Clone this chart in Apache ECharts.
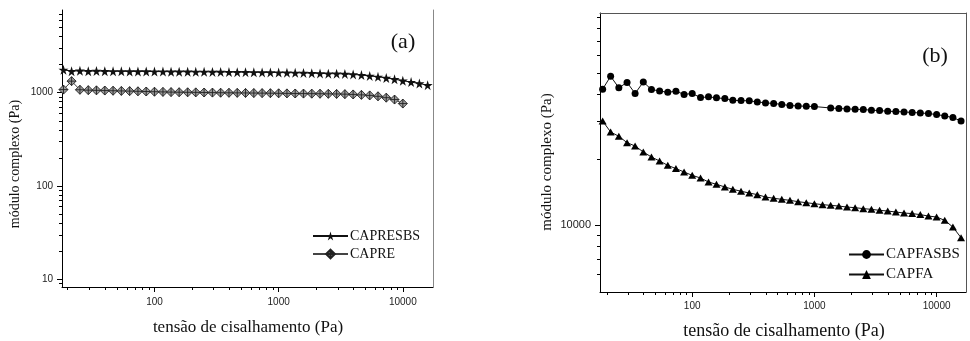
<!DOCTYPE html>
<html>
<head>
<meta charset="utf-8">
<script src="https://cdn.jsdelivr.net/npm/echarts@6/dist/echarts.min.js"></script>
<style>html,body{margin:0;padding:0;background:#fff}#c{width:970px;height:341px}</style>
</head>
<body>
<div id="c"></div>
<script>
// ---- data ----
const stressX = [18.5, 21.5, 25.1, 29.3, 34.1, 39.8, 46.4, 54.1, 63.1, 73.6, 85.8, 100, 117, 136, 158, 185, 215, 251, 293, 341, 398, 464, 541, 631, 736, 858, 1000, 1166, 1359, 1585, 1848, 2154, 2512, 2929, 3415, 3981, 4642, 5412, 6310, 7356, 8577, 10000, 11659, 13594, 15849];

const capresbs = [1760, 1700, 1720, 1700, 1710, 1700, 1695, 1695, 1690, 1690, 1690, 1685, 1685, 1680, 1680, 1680, 1675, 1675, 1670, 1670, 1665, 1660, 1660, 1655, 1650, 1650, 1645, 1640, 1635, 1630, 1620, 1610, 1600, 1600, 1590, 1570, 1545, 1515, 1480, 1440, 1395, 1345, 1300, 1255, 1205];

const capre = [1080, 1330, 1075, 1065, 1060, 1055, 1050, 1045, 1040, 1035, 1030, 1025, 1020, 1015, 1012, 1010, 1008, 1005, 1003, 1000, 998, 996, 994, 992, 990, 988, 985, 983, 981, 979, 977, 975, 973, 970, 965, 958, 948, 935, 915, 885, 845, 765];

const capfasbs = [42100, 48200, 42700, 45200, 40200, 45400, 41900, 41300, 40700, 41200, 39800, 40200, 38500, 38800, 38400, 38100, 37400, 37300, 37200, 36800, 36400, 36200, 35800, 35400, 35250, 35140, 35030, null, 34500, 34300, 34170, 34050, 33950, 33700, 33570, 33340, 33230, 33100, 32890, 32750, 32530, 32200, 31720, 31190, 30080];

const capfa = [30060, 26780, 25590, 23930, 23100, 21690, 20570, 19720, 18840, 18200, 17560, 16950, 16480, 15800, 15420, 14990, 14630, 14330, 14070, 13830, 13490, 13310, 13160, 13020, 12840, 12700, 12570, 12440, 12350, 12260, 12130, 12050, 11930, 11840, 11720, 11630, 11510, 11390, 11320, 11200, 11030, 10920, 10540, 9820, 8780];

// tick values
const xTicksMajor = [100, 1000, 10000];
const xTicksMinor = [20, 30, 40, 50, 60, 70, 80, 90, 200, 300, 400, 500, 600, 700, 800, 900, 2000, 3000, 4000, 5000, 6000, 7000, 8000, 9000];
const yTicksMajorA = [10, 100, 1000];
const yTicksMinorA = [9, 20, 30, 40, 50, 60, 70, 80, 90, 200, 300, 400, 500, 600, 700, 800, 900, 2000, 3000, 4000, 5000, 6000, 7000];
const yTicksMajorB = [10000];
const yTicksMinorB = [6000, 7000, 8000, 9000, 20000, 30000, 40000, 50000, 60000, 70000, 80000, 90000];

const seriesNames = ['CAPRESBS', 'CAPRE', 'CAPFASBS', 'CAPFA'];
const xTitle = 'tensão de cisalhamento (Pa)';
const yTitle = 'módulo complexo (Pa)';
const panelLabels = ['(a)', '(b)'];

// ---- helpers ----
function pairs(vals) {
  const out = [];
  vals.forEach((v, i) => { if (v !== null) out.push([stressX[i], v]); });
  return out;
}
const SERIF = '"Liberation Serif", "Times New Roman", serif';
const SANS = '"Liberation Sans", Arial, sans-serif';
const starPath = 'path://M50,0 L61,35 L98,35 L68,57 L79,91 L50,70 L21,91 L32,57 L2,35 L39,35 Z';
const diamondPath = 'path://M0,-10 L10,0 L0,10 L-10,0 Z M0,-10 L0,10 M-10,0 L10,0';

function mainX(gi, min, max, fs, margin) {
  return {
    type: 'log', logBase: 10, gridIndex: gi, min: min, max: max, position: 'bottom',
    axisLine: { show: true, lineStyle: { color: '#000', width: 1 } },
    axisTick: { show: true, length: 5, customValues: xTicksMajor, lineStyle: { color: '#000' } },
    axisLabel: { show: true, customValues: xTicksMajor, fontFamily: SANS, fontSize: fs, color: '#222', margin: margin, formatter: v => String(v) },
    splitLine: { show: false }, minorTick: { show: false }
  };
}
function minorX(gi, min, max) {
  return {
    type: 'log', logBase: 10, gridIndex: gi, min: min, max: max, position: 'bottom',
    axisLine: { show: false },
    axisTick: { show: true, length: 3, customValues: xTicksMinor, lineStyle: { color: '#000' } },
    axisLabel: { show: false }, splitLine: { show: false }
  };
}
function mainY(gi, min, max, majors, fs) {
  return {
    type: 'log', logBase: 10, gridIndex: gi, min: min, max: max, position: 'left',
    axisLine: { show: true, lineStyle: { color: '#000', width: 1 } },
    axisTick: { show: true, length: 5, customValues: majors, lineStyle: { color: '#000' } },
    axisLabel: { show: true, customValues: majors, fontFamily: SANS, fontSize: fs, color: '#222', margin: 9, formatter: v => String(v) },
    splitLine: { show: false }
  };
}
function minorY(gi, min, max, minors) {
  return {
    type: 'log', logBase: 10, gridIndex: gi, min: min, max: max, position: 'left',
    axisLine: { show: false },
    axisTick: { show: true, length: 3, customValues: minors, lineStyle: { color: '#000' } },
    axisLabel: { show: false }, splitLine: { show: false }
  };
}
function borderAxis(gi, pos, color) {
  return {
    type: 'value', gridIndex: gi, position: pos, min: 0, max: 1,
    axisLine: { show: true, onZero: false, lineStyle: { color: color, width: 1 } },
    axisTick: { show: false }, axisLabel: { show: false }, splitLine: { show: false }
  };
}

const chart = echarts.init(document.getElementById('c'), null, { renderer: 'canvas' });
chart.setOption({
  animation: false,
  backgroundColor: '#fff',
  grid: [
    { left: 62, top: 10, width: 371, height: 277 },
    { left: 600, top: 13, width: 366, height: 279 }
  ],
  xAxis: [
    mainX(0, 18, 17500, 10, 10),
    minorX(0, 18, 17500),
    mainX(1, 17.6, 17400, 10, 9),
    minorX(1, 17.6, 17400),
    borderAxis(1, 'top', '#555')
  ],
  yAxis: [
    mainY(0, 8.27, 7700, yTicksMajorA, 10),
    minorY(0, 8.27, 7700, yTicksMinorA),
    borderAxis(0, 'right', '#888'),
    mainY(1, 4950, 94000, yTicksMajorB, 11),
    minorY(1, 4950, 94000, yTicksMinorB),
    borderAxis(1, 'right', '#555')
  ],
  legend: [
    {
      data: [seriesNames[0], seriesNames[1]], orient: 'vertical', left: 312, top: 229, padding: 0,
      itemWidth: 35, itemHeight: 11, itemGap: 4,
      textStyle: { fontFamily: SERIF, fontSize: 14, color: '#111', padding: [0, 0, 0, -3] }
    },
    {
      data: [seriesNames[2], seriesNames[3]], orient: 'vertical', left: 848, top: 247, padding: 0,
      itemWidth: 35, itemHeight: 11, itemGap: 5,
      textStyle: { fontFamily: SERIF, fontSize: 15, color: '#111', padding: [0, 0, 0, -3] }
    }
  ],
  series: [
    {
      name: seriesNames[0], type: 'line', xAxisIndex: 0, yAxisIndex: 0, data: pairs(capresbs),
      symbol: starPath, symbolSize: 10, showAllSymbol: true,
      lineStyle: { color: '#111', width: 1 }, itemStyle: { color: '#111', borderWidth: 0 }
    },
    {
      name: seriesNames[1], type: 'line', xAxisIndex: 0, yAxisIndex: 0, data: pairs(capre),
      symbol: diamondPath, symbolSize: 9, showAllSymbol: true,
      lineStyle: { color: '#444', width: 1 }, itemStyle: { color: '#9a9a9a', borderColor: '#222', borderWidth: 0.9 }
    },
    {
      name: seriesNames[2], type: 'line', xAxisIndex: 2, yAxisIndex: 3, data: pairs(capfasbs),
      symbol: 'circle', symbolSize: 7, showAllSymbol: true, connectNulls: true,
      lineStyle: { color: '#111', width: 1 }, itemStyle: { color: '#000', borderWidth: 0 }
    },
    {
      name: seriesNames[3], type: 'line', xAxisIndex: 2, yAxisIndex: 3, data: pairs(capfa),
      symbol: 'triangle', symbolSize: [8, 7], showAllSymbol: true,
      lineStyle: { color: '#111', width: 1 }, itemStyle: { color: '#000', borderWidth: 0 }
    }
  ],
  graphic: [
    { type: 'text', x: 403, y: 42, style: { text: panelLabels[0], font: '22px ' + SERIF, fill: '#111', align: 'center', verticalAlign: 'middle', textAlign: 'center', textVerticalAlign: 'middle' } },
    { type: 'text', x: 935, y: 56, style: { text: panelLabels[1], font: '22px ' + SERIF, fill: '#111', align: 'center', verticalAlign: 'middle', textAlign: 'center', textVerticalAlign: 'middle' } },
    { type: 'text', x: 248, y: 328, style: { text: xTitle, font: '17px ' + SERIF, fill: '#111', align: 'center', verticalAlign: 'middle', textAlign: 'center', textVerticalAlign: 'middle' } },
    { type: 'text', x: 784, y: 331, style: { text: xTitle, font: '18px ' + SERIF, fill: '#111', align: 'center', verticalAlign: 'middle', textAlign: 'center', textVerticalAlign: 'middle' } },
    { type: 'text', x: 15, y: 164, rotation: Math.PI / 2, style: { text: yTitle, font: '14px ' + SERIF, fill: '#111', align: 'center', verticalAlign: 'middle', textAlign: 'center', textVerticalAlign: 'middle' } },
    { type: 'text', x: 547, y: 162, rotation: Math.PI / 2, style: { text: yTitle, font: '15px ' + SERIF, fill: '#111', align: 'center', verticalAlign: 'middle', textAlign: 'center', textVerticalAlign: 'middle' } }
  ]
});
</script>
</body>
</html>
